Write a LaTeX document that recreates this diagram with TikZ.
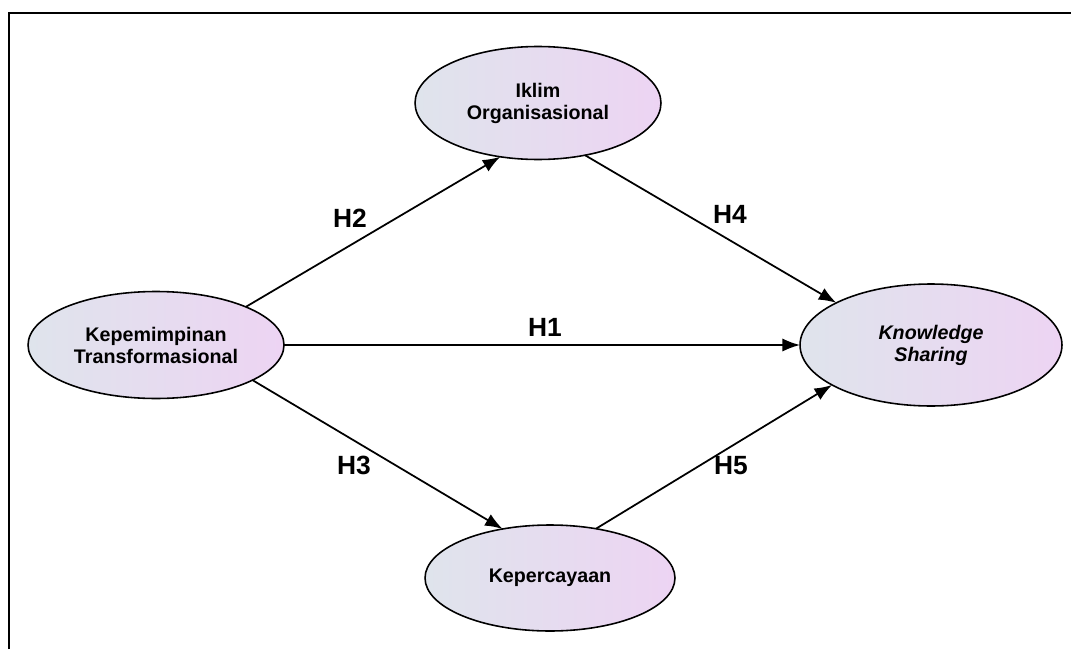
\documentclass[tikz,border=0pt]{standalone}
\usepackage{xcolor}
\usepackage{fontspec}
\setmainfont{Liberation Sans}
\usetikzlibrary{shapes.geometric,arrows.meta}

\definecolor{fillleft}{HTML}{DFE4EC}
\definecolor{fillright}{HTML}{EDD4F3}

\tikzset{
    latentvar/.style={ellipse, draw, line width=0.9pt, left color=fillleft, right color=fillright,
        outer sep=0pt, inner sep=0pt, align=center, font=\fontsize{11.2}{12.5}\selectfont\bfseries},
    hyparrow/.style={line width=1pt, -{Latex[length=10pt,width=7.5pt]}},
    hyplabel/.style={font=\fontsize{15}{18}\selectfont\bfseries}
}

\begin{document}
\begin{tikzpicture}[x=0.02cm,y=-0.02cm]
    \useasboundingbox (0,0) rectangle (1071,649);

    % Draw the frame on the top and left sides
    \draw[line width=1.7pt] (9,649) -- (9,13) -- (1071,13);

    % Draw the four variables
    \node[latentvar, minimum width=5.12cm, minimum height=2.14cm] (kep) at (156,345) {Kepemimpinan\\Transformasional};
    \node[latentvar, minimum width=4.92cm, minimum height=2.26cm] (iklim) at (538,103) {Iklim\\Organisasional};
    \node[latentvar, minimum width=5.24cm, minimum height=2.44cm] (ks) at (931,345) {\itshape Knowledge\\\itshape Sharing};
    \node[latentvar, minimum width=5.00cm, minimum height=2.12cm] (kepc) at (550,578) {Kepercayaan};

    % Draw the hypothesis paths
    \draw[hyparrow] (kep.23) -- (iklim.235);
    \draw[hyparrow] (iklim.312) -- (ks.156);
    \draw[hyparrow] (kep.east) -- (ks.west);
    \draw[hyparrow] (kep.340) -- (kepc.134);
    \draw[hyparrow] (kepc.47) -- (ks.202);

    % Draw the hypothesis labels
    \node[hyplabel] (h2) at (350,218) {H2};
    \node[hyplabel] (h4) at (730,214) {H4};
    \node[hyplabel] (h1) at (545,327) {H1};
    \node[hyplabel] (h3) at (354,465) {H3};
    \node[hyplabel] (h5) at (731,466) {H5};
\end{tikzpicture}
\end{document}
